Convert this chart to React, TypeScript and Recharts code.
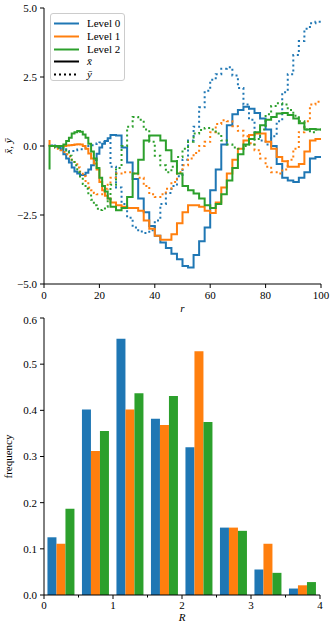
import { LineChart, Line, BarChart, Bar, XAxis, YAxis } from 'recharts';

// radius grid: finer near the centre, every 2 further out
const r = [2, 3, 4, 5, 6, 7, 8, 9, 10, 11, 12, 13, 14, 15, 16, 17, 18, 19, 20, 21, 22, 23, 24,
  26, 28, 30, 32, 34, 36, 38, 40, 42, 44, 46, 48, 50, 52, 54, 56, 58, 60, 62, 64, 66, 68, 70, 72, 74, 76, 78,
  80, 82, 84, 86, 88, 90, 92, 94, 96, 98, 100];

// x-bar and y-bar per level
const level0X = [0.0, 0.02, 0.0, -0.02, -0.05, -0.13, -0.3, -0.45, -0.6, -0.78, -0.92, -1.0, -1.05, -1.05, -0.97,
  -0.85, -0.7, -0.52, -0.28, -0.05, 0.08, 0.18, 0.28,
  0.4, 0.38, -0.05, -0.6, -1.2, -1.9, -2.4, -2.9, -3.25, -3.5, -3.7, -3.9, -4.1, -4.35, -4.4, -3.95, -3.45,
  -2.95, -1.6, -0.85, 0.05, 0.75, 1.15, 1.3, 1.42, 1.35, 1.2, 1.0, 0.6, 0.0, -0.65, -1.15, -1.25, -1.3, -1.15,
  -0.95, -0.45, -0.4];
const level0Y = [0.0, 0.0, 0.02, 0.0, -0.02, -0.06, -0.12, -0.18, -0.2, -0.18, -0.15, -0.13, -0.12, -0.08, -0.05,
  0.0, 0.03, 0.07, 0.1, 0.13, 0.15, 0.18, 0.2,
  -0.75, -1.5, -2.1, -2.6, -2.95, -3.1, -3.15, -3.05, -2.7, -2.1, -1.7, -1.45, -1.1, -0.5, 0.2, 0.7, 1.4, 2.0,
  2.4, 2.6, 2.8, 2.85, 2.55, 2.1, 1.5, 0.95, 0.5, 0.2, 0.05, 0.35, 0.9, 1.95, 2.6, 3.3, 3.8, 4.25, 4.45, 4.5];
const level1X = [0.22, 0.0, 0.0, 0.0, 0.0, 0.0, 0.0, 0.02, 0.03, 0.04, 0.05, 0.06, 0.05, 0.0, -0.1, -0.27, -0.45,
  -0.63, -0.85, -1.3, -1.6, -1.8, -1.9,
  -2.05, -2.15, -2.2, -2.25, -2.25, -2.35, -2.7, -3.0, -3.25, -3.4, -3.4, -3.2, -2.8, -2.4, -2.15, -2.15, -2.2,
  -2.35, -2.43, -2.05, -1.5, -1.0, -0.5, -0.1, 0.2, 0.4, 0.45, 0.45, 0.15, -0.1, -0.4, -0.55, -0.75, -0.75,
  -0.65, -0.2, 0.2, 0.25];
const level1Y = [0.0, 0.0, 0.0, -0.05, -0.1, -0.15, -0.22, -0.3, -0.38, -0.5, -0.62, -0.78, -0.92, -1.1, -1.35,
  -1.5, -1.6, -1.7, -1.75, -1.75, -1.65, -1.55, -1.4,
  -1.15, -1.0, -0.95, -0.95, -1.0, -1.15, -1.45, -1.75, -1.85, -1.75, -1.55, -1.3, -0.95, -0.7, -0.45, -0.25,
  0.0, 0.15, 0.5, 0.8, 0.93, 0.9, 0.72, 0.55, 0.35, 0.1, -0.15, -0.45, -0.75, -0.95, -1.0, -0.85, -0.5, -0.1,
  0.5, 0.9, 1.5, 1.6];
const level2X = [-0.85, 0.0, 0.0, 0.0, 0.0, 0.0, 0.05, 0.18, 0.3, 0.45, 0.5, 0.54, 0.52, 0.42, 0.3, 0.08, -0.2,
  -0.45, -0.8, -1.15, -1.45, -1.65, -1.9,
  -2.2, -2.33, -2.25, -1.85, -1.0, -0.5, 0.2, 0.38, 0.38, 0.2, -0.15, -0.55, -1.0, -1.45, -1.6, -1.72, -1.9,
  -2.15, -2.25, -2.1, -1.75, -1.25, -0.8, -0.3, 0.05, 0.25, 0.5, 0.75, 0.95, 1.05, 1.18, 1.2, 1.12, 1.0, 0.82,
  0.6, 0.62, 0.6];
const level2Y = [0.0, 0.0, -0.02, -0.05, -0.06, -0.07, -0.12, -0.2, -0.35, -0.5, -0.7, -0.95, -1.15, -1.38, -1.55,
  -1.75, -1.95, -2.15, -2.27, -2.32, -2.3, -2.2, -2.0,
  -1.4, -0.8, 0.0, 0.7, 1.05, 0.95, 0.6, 0.15, -0.35, -0.7, -0.95, -0.75, -0.4, -0.1, 0.15, 0.45, 0.58, 0.65,
  0.6, 0.45, 0.2, 0.05, -0.05, -0.1, 0.0, 0.05, 0.25, 0.6, 1.15, 1.45, 1.55, 1.5, 1.3, 1.1, 0.9, 0.6, 0.5, 0.6];

// histogram of R, bins of width 0.5
const binCenters = [0.25, 0.75, 1.25, 1.75, 2.25, 2.75, 3.25, 3.75];
const freq0 = [0.125, 0.402, 0.555, 0.382, 0.32, 0.146, 0.055, 0.014];
const freq1 = [0.111, 0.312, 0.402, 0.368, 0.528, 0.146, 0.111, 0.021];
const freq2 = [0.187, 0.355, 0.437, 0.431, 0.375, 0.139, 0.048, 0.028];

const topXTicks = [0, 20, 40, 60, 80, 100];
const topYTicks = [-5, -2.5, 0, 2.5, 5];
const binXTicks = [0, 0.5, 1, 1.5, 2, 2.5, 3, 3.5, 4];
const freqTicks = [0, 0.1, 0.2, 0.3, 0.4, 0.5, 0.6];

const BLUE = '#1f77b4';
const ORANGE = '#ff7f0e';
const GREEN = '#2ca02c';
const FONT = '"Liberation Serif", "DejaVu Serif", serif';
const tickStyle = { fontSize: 11, fill: '#000', fontFamily: FONT };
const axisLine = { stroke: '#000', strokeWidth: 1 };
const DOTS = '2 3';

const lineData = r.map((v, i) => ({
  r: v,
  x0: level0X[i], y0: level0Y[i],
  x1: level1X[i], y1: level1Y[i],
  x2: level2X[i], y2: level2Y[i],
}));

const barData = binCenters.map((c, i) => ({ c, f0: freq0[i], f1: freq1[i], f2: freq2[i] }));

const fmtSigned = (v: number) => (v < 0 ? '\u2212' + Math.abs(v).toFixed(1) : v.toFixed(1));

function BinTick(props: any) {
  const { x, y, payload } = props;
  const major = Number.isInteger(payload.value);
  const y0 = y - 6;
  return (
    <g>
      <line x1={x} x2={x} y1={y0} y2={y0 + (major ? 4 : 2.5)} stroke="#000" strokeWidth={1} />
      {major && (
        <text x={x} y={y0 + 6} dy="0.71em" textAnchor="middle" {...tickStyle}>
          {payload.value}
        </text>
      )}
    </g>
  );
}

const legendRows = [
  { label: 'Level 0', color: BLUE, dash: undefined as string | undefined, italic: false },
  { label: 'Level 1', color: ORANGE, dash: undefined, italic: false },
  { label: 'Level 2', color: GREEN, dash: undefined, italic: false },
  { label: 'x\u0304', color: '#000', dash: undefined, italic: true },
  { label: 'y\u0304', color: '#000', dash: DOTS, italic: true },
];

function LegendBox() {
  return (
    <div
      style={{
        position: 'absolute', left: 50, top: 13, width: 75, height: 68,
        background: 'rgba(255,255,255,0.8)', border: '1px solid #ccc', borderRadius: 3,
        fontFamily: FONT, fontSize: 11, boxSizing: 'border-box',
      }}
    >
      {legendRows.map((row, i) => (
        <div key={row.label} style={{ position: 'absolute', left: 2, top: 3 + i * 12.8, height: 13, display: 'flex', alignItems: 'center' }}>
          <svg width={26} height={13}>
            <line x1={1} x2={26} y1={6.5} y2={6.5} stroke={row.color} strokeWidth={2} strokeDasharray={row.dash} />
          </svg>
          <span style={{ marginLeft: 8, fontStyle: row.italic ? 'italic' : 'normal', lineHeight: '13px' }}>{row.label}</span>
        </div>
      ))}
    </div>
  );
}

export default function App() {
  return (
    <div style={{ position: 'absolute', left: 0, top: 0, width: 332, height: 628, background: '#fff' }}>
      <LineChart width={332} height={314} data={lineData} margin={{ top: 8, right: 11, bottom: 0, left: 0 }}>
        <XAxis
          dataKey="r" type="number" domain={[0, 100]} ticks={topXTicks} tick={tickStyle}
          tickSize={4} tickMargin={3} axisLine={axisLine} tickLine={axisLine} height={30}
          label={{ value: 'r', position: 'insideBottom', offset: 2, style: { ...tickStyle, fontStyle: 'italic' } }}
        />
        <XAxis xAxisId="top" orientation="top" type="number" domain={[0, 100]} height={0} tick={false} tickLine={false} axisLine={axisLine} />
        <YAxis
          type="number" domain={[-5, 5]} ticks={topYTicks} tick={tickStyle} tickFormatter={fmtSigned}
          tickSize={4} tickMargin={3} axisLine={axisLine} tickLine={axisLine} width={44}
          label={{ value: 'x\u0304, y\u0304', angle: -90, position: 'insideLeft', offset: 8, style: { ...tickStyle, fontStyle: 'italic', textAnchor: 'middle' } }}
        />
        <YAxis yAxisId="right" orientation="right" type="number" domain={[-5, 5]} width={0} tick={false} tickLine={false} axisLine={axisLine} />
        <Line type="stepBefore" dataKey="x0" stroke={BLUE} strokeWidth={2} dot={false} isAnimationActive={false} />
        <Line type="stepBefore" dataKey="y0" stroke={BLUE} strokeWidth={2} strokeDasharray={DOTS} dot={false} isAnimationActive={false} />
        <Line type="stepBefore" dataKey="x1" stroke={ORANGE} strokeWidth={2} dot={false} isAnimationActive={false} />
        <Line type="stepBefore" dataKey="y1" stroke={ORANGE} strokeWidth={2} strokeDasharray={DOTS} dot={false} isAnimationActive={false} />
        <Line type="stepBefore" dataKey="x2" stroke={GREEN} strokeWidth={2} dot={false} isAnimationActive={false} />
        <Line type="stepBefore" dataKey="y2" stroke={GREEN} strokeWidth={2} strokeDasharray={DOTS} dot={false} isAnimationActive={false} />
      </LineChart>
      <LegendBox />
      <BarChart width={332} height={314} data={barData} margin={{ top: 4, right: 12, bottom: 0, left: 0 }} barCategoryGap="10%" barGap={0}>
        <XAxis
          dataKey="c" type="number" domain={[0, 4]} ticks={binXTicks} tick={<BinTick />}
          tickSize={4} tickMargin={2} axisLine={axisLine} tickLine={false} height={33}
          label={{ value: 'R', position: 'insideBottom', offset: 7, style: { ...tickStyle, fontStyle: 'italic' } }}
        />
        <XAxis xAxisId="top" orientation="top" type="number" domain={[0, 4]} height={0} tick={false} tickLine={false} axisLine={axisLine} />
        <YAxis
          type="number" domain={[0, 0.6]} ticks={freqTicks} tick={tickStyle} tickFormatter={(v: number) => v.toFixed(1)}
          tickSize={4} tickMargin={3} axisLine={axisLine} tickLine={axisLine} width={44}
          label={{ value: 'frequency', angle: -90, position: 'insideLeft', offset: 8, style: { ...tickStyle, textAnchor: 'middle' } }}
        />
        <YAxis yAxisId="right" orientation="right" type="number" domain={[0, 0.6]} width={0} tick={false} tickLine={false} axisLine={axisLine} />
        <Bar dataKey="f0" fill={BLUE} isAnimationActive={false} />
        <Bar dataKey="f1" fill={ORANGE} isAnimationActive={false} />
        <Bar dataKey="f2" fill={GREEN} isAnimationActive={false} />
      </BarChart>
    </div>
  );
}
